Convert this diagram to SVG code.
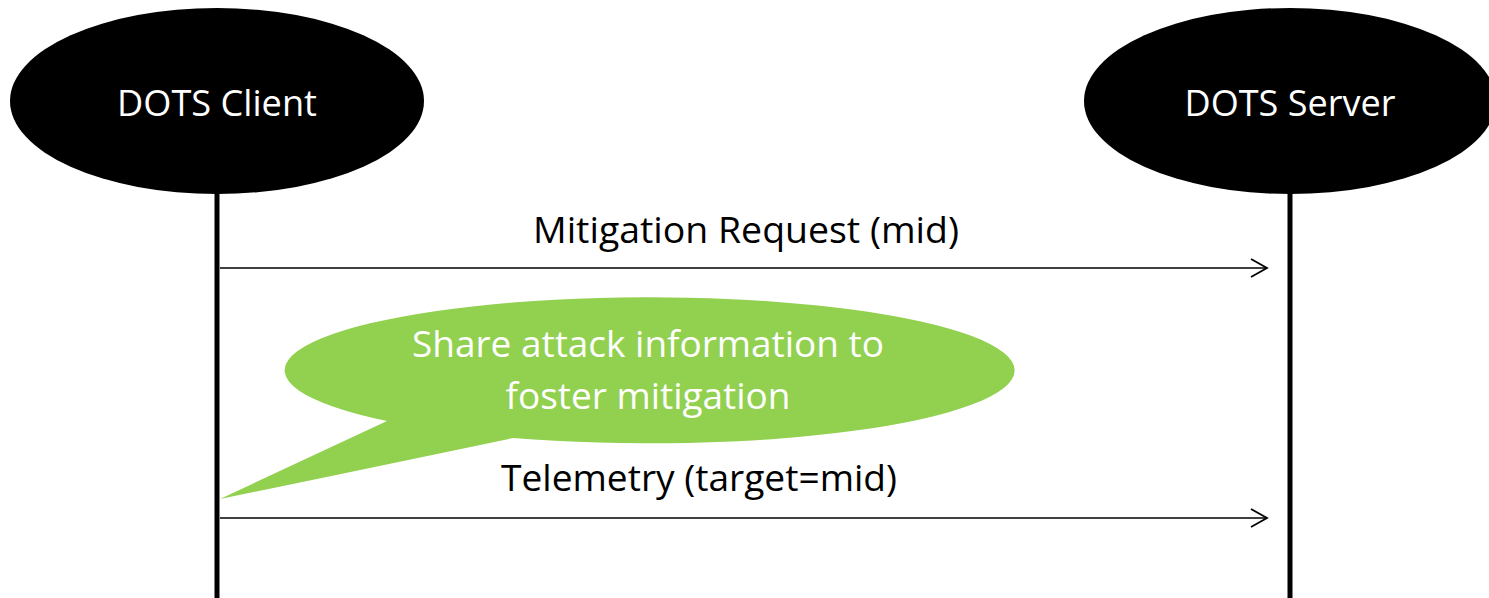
<svg xmlns="http://www.w3.org/2000/svg" width="1489" height="598" viewBox="0 0 1489 598">
  <style>
    .actor { fill: #000000; }
    .actor-label { fill: #ffffff; font-family: "Open Sans", "Liberation Sans", sans-serif; font-size: 36px; text-anchor: middle; }
    .lifeline { stroke: #000000; stroke-width: 5; fill: none; }
    .msg { stroke: #000000; stroke-width: 1.6; fill: none; }
    .msg-label { fill: #000000; font-family: "Open Sans", "Liberation Sans", sans-serif; font-size: 36.5px; text-anchor: middle; }
    .note { fill: #92D050; }
    .note-label { fill: #ffffff; font-family: "Open Sans", "Liberation Sans", sans-serif; font-size: 36.5px; text-anchor: middle; }
  </style>
  <defs>
    <marker id="open-arrow" markerUnits="userSpaceOnUse" markerWidth="22" markerHeight="22" refX="18" refY="10" orient="auto">
      <path d="M2,1 L18,10 L2,19" fill="none" stroke="#000000" stroke-width="1.8"/>
    </marker>
  </defs>
  <rect width="1489" height="598" fill="#ffffff"/>

  <g id="lifelines">
    <line class="lifeline" x1="217" y1="190" x2="217" y2="598"/>
    <line class="lifeline" x1="1290" y1="190" x2="1290" y2="598"/>
  </g>

  <g id="dots-client">
    <ellipse class="actor" cx="217" cy="101" rx="207" ry="93"/>
    <text class="actor-label" x="217" y="116" textLength="200" lengthAdjust="spacingAndGlyphs">DOTS Client</text>
  </g>

  <g id="dots-server">
    <ellipse class="actor" cx="1290" cy="101" rx="206" ry="93"/>
    <text class="actor-label" x="1290" y="116" textLength="211" lengthAdjust="spacingAndGlyphs">DOTS Server</text>
  </g>

  <g id="connectors">
    <line class="msg" x1="220" y1="268" x2="1267" y2="268" marker-end="url(#open-arrow)"/>
    <text class="msg-label" x="746" y="243" textLength="426" lengthAdjust="spacingAndGlyphs">Mitigation Request (mid)</text>
    <line class="msg" x1="220" y1="518" x2="1267" y2="518" marker-end="url(#open-arrow)"/>
    <text class="msg-label" x="699" y="491" textLength="396" lengthAdjust="spacingAndGlyphs">Telemetry (target=mid)</text>
  </g>

  <g id="note">
    <path class="note" d="M387,421 A365,73 0 1 1 513,438 Q360,470 220,499 Z"/>
    <text class="note-label" x="648" y="357" textLength="472" lengthAdjust="spacingAndGlyphs">Share attack information to</text>
    <text class="note-label" x="648" y="409" textLength="285" lengthAdjust="spacingAndGlyphs">foster mitigation</text>
  </g>
</svg>
